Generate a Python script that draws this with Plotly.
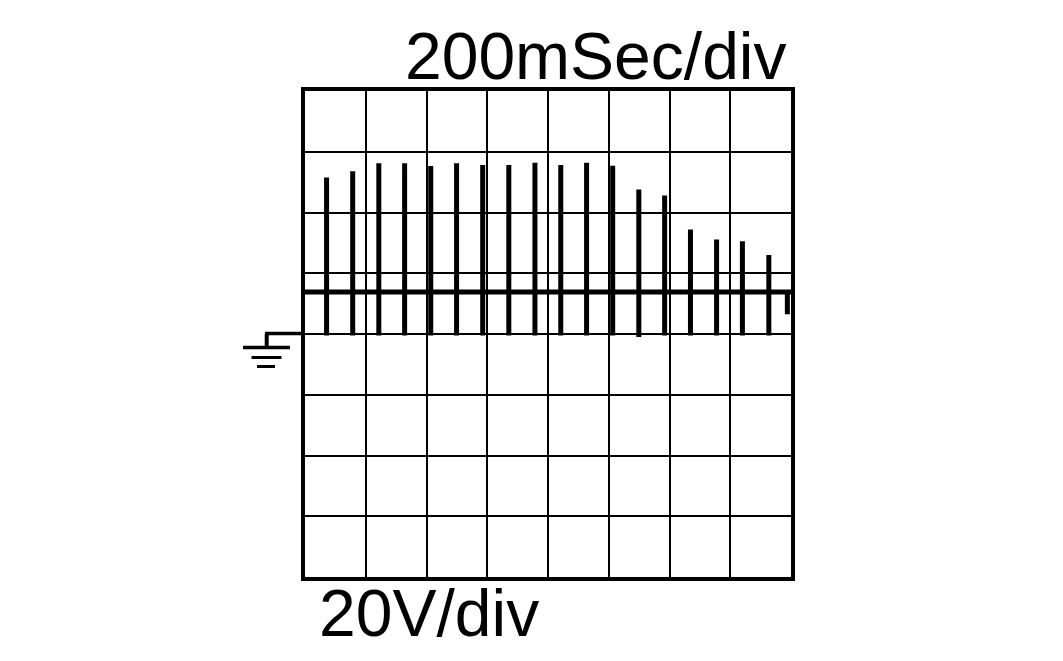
import plotly.graph_objects as go

# Spike data (time in ms, voltage in V)
spike_times = [71, 157, 243, 328, 414, 499, 585, 671, 757, 842, 927, 1013, 1099, 1184, 1269, 1355, 1440, 1527]
spike_peaks = [51.5, 53.6, 56.2, 56.2, 55.3, 56.2, 55.6, 55.6, 56.4, 55.6, 56.4, 55.4, 47.6, 45.6, 34.4, 31.1, 30.5, 26.0]
spike_troughs = [-0.5, -0.5, -0.5, -0.5, -0.5, -0.5, -0.5, -0.5, -0.5, -0.5, -0.5, -0.5, -1.0, -0.5, -0.5, -0.5, -0.5, -0.5]
baseline_v = 13.8
end_dip_t = 1588
end_dip_v = 6.5
x_range = [0, 1600]
y_range = [-80, 80]
time_label = "200mSec/div"
volt_label = "20V/div"

# build trace from the values
xs = [0]
ys = [baseline_v]
for t, p, tr in zip(spike_times, spike_peaks, spike_troughs):
    xs += [t, t, t, t]
    ys += [baseline_v, p, tr, baseline_v]
xs += [end_dip_t, end_dip_t, end_dip_t, x_range[1]]
ys += [baseline_v, end_dip_v, baseline_v, baseline_v]

fig = go.Figure()
fig.add_trace(go.Scatter(x=xs, y=ys, mode="lines",
                         line=dict(color="black", width=5),
                         hoverinfo="skip", showlegend=False))

OFF = 8  # default body margin of the page
W, H = 1063 - 2 * OFF, 661 - 2 * OFF
L, R, T, B = 305 - OFF, 791 - OFF, 91 - OFF, 577 - OFF
pw, ph = R - L, B - T

def px(x):
    return (x - OFF - L) / pw

def py(y):
    return (B - (y - OFF)) / ph

shapes = []
# ground symbol
for (x0, x1, y0, y1, w) in [
    (265, 305, 333.5, 333.5, 3.5),
    (266.7, 266.7, 333.5, 347, 4),
    (243, 290, 347.5, 347.5, 3.5),
    (251.5, 281.5, 357.5, 357.5, 3),
    (257, 275, 366.5, 366.5, 3),
]:
    shapes.append(dict(type="line", xref="paper", yref="paper",
                       x0=px(x0), x1=px(x1), y0=py(y0), y1=py(y1),
                       line=dict(color="black", width=w)))

fig.update_layout(
    width=W, height=H,
    margin=dict(l=L, r=W - R, t=T, b=H - B, pad=0),
    paper_bgcolor="white", plot_bgcolor="white",
    xaxis=dict(range=x_range, dtick=200, tick0=0, showgrid=True,
               gridcolor="black", gridwidth=2, showticklabels=False,
               ticks="", zeroline=False, showline=True, mirror=True,
               linecolor="black", linewidth=4, fixedrange=True),
    yaxis=dict(range=y_range, dtick=20, tick0=0, showgrid=True,
               gridcolor="black", gridwidth=2, showticklabels=False,
               ticks="", zeroline=False, showline=True, mirror=True,
               linecolor="black", linewidth=4, fixedrange=True),
    shapes=shapes,
    annotations=[
        dict(text=time_label, xref="paper", yref="paper",
             x=px(596), y=py(56), xanchor="center", yanchor="middle",
             showarrow=False,
             font=dict(family="Liberation Sans, Arial", size=66, color="black")),
        dict(text=volt_label, xref="paper", yref="paper",
             x=px(429), y=py(613), xanchor="center", yanchor="middle",
             showarrow=False,
             font=dict(family="Liberation Sans, Arial", size=66, color="black")),
    ],
)

fig.write_html("out.html", config={"displayModeBar": False})
